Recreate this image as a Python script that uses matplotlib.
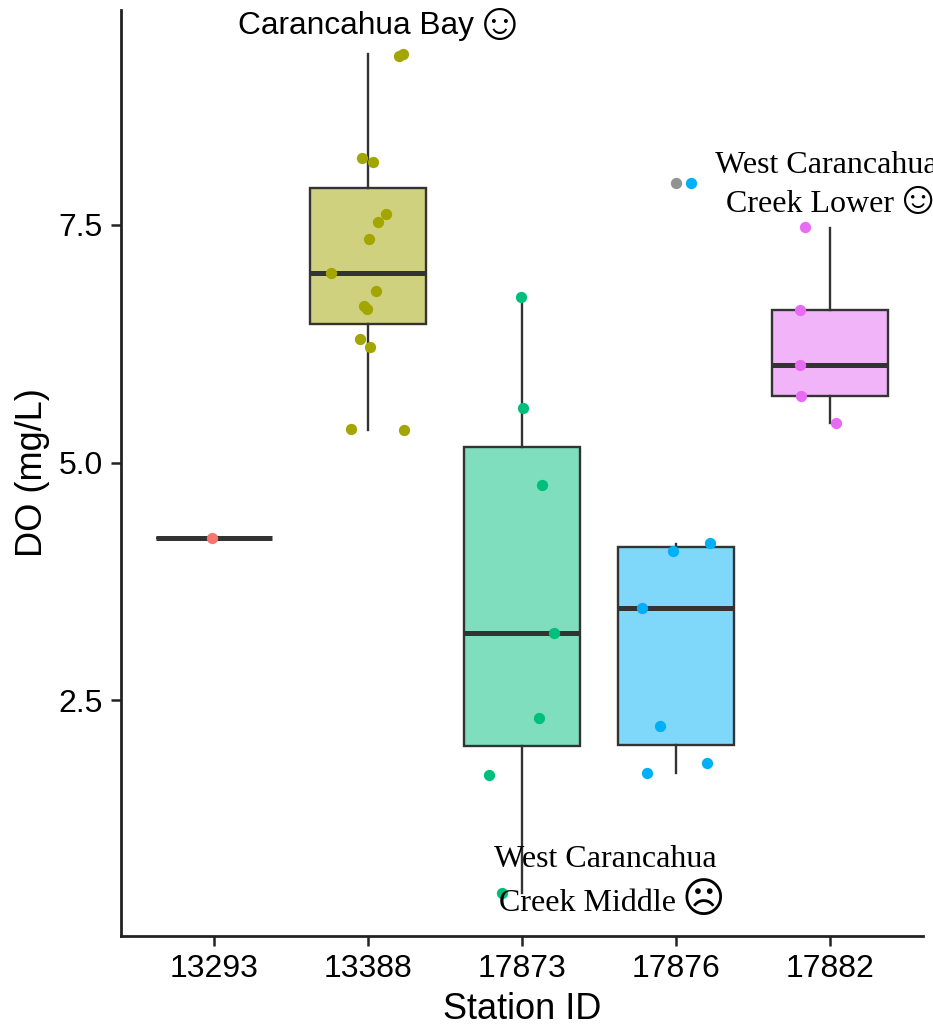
import matplotlib
matplotlib.use("Agg")
import matplotlib.pyplot as plt

stations = ["13293", "13388", "17873", "17876", "17882"]
colors = ["#F8766D", "#A3A500", "#00BF7D", "#00B0F6", "#E76BF3"]

# box stats: whisker low, q1, median, q3, whisker high
whisker_low = [4.205, 5.342, 0.468, 1.732, 5.416]
q1 = [4.205, 6.453, 2.016, 2.026, 5.700]
medians = [4.205, 6.990, 3.205, 3.468, 6.026]
q3 = [4.205, 7.889, 5.168, 4.110, 6.605]
whisker_high = [4.205, 9.300, 6.742, 4.142, 7.468]

# jittered points, x is position on the category axis
points_x = [
    [0.987],
    [2.201, 2.227, 1.961, 2.032, 2.117, 2.065, 2.006, 1.760, 2.052, 1.974, 1.994, 1.948, 2.013, 1.890, 2.234],
    [2.994, 3.006, 3.130, 3.208, 3.110, 2.786, 2.870],
    [4.097, 4.221, 3.981, 3.779, 3.896, 4.201, 3.812],
    [4.838, 4.805, 4.805, 4.812, 5.039],
]
points_y = [
    [4.205],
    [9.280, 9.300, 8.205, 8.163, 7.616, 7.530, 7.350, 6.995, 6.805, 6.647, 6.616, 6.300, 6.216, 5.353, 5.342],
    [6.742, 5.574, 4.763, 3.205, 2.311, 1.711, 0.468],
    [7.942, 4.153, 4.068, 3.468, 2.226, 1.837, 1.732],
    [7.479, 6.605, 6.026, 5.700, 5.416],
]

# outlier drawn by the boxplot for 17876
outlier_x = [4.0]
outlier_y = [7.942]

sans = ["Liberation Sans", "DejaVu Sans"]
serif = ["Liberation Serif", "DejaVu Sans"]
dark = "#333333"

fig = plt.figure(figsize=(9.33, 10.30), dpi=100)
ax = fig.add_axes([121 / 933, 94 / 1030, 802 / 933, 926 / 1030])

stats = [
    {"whislo": whisker_low[i], "q1": q1[i], "med": medians[i], "q3": q3[i], "whishi": whisker_high[i], "fliers": []}
    for i in range(len(stations))
]
boxes = ax.bxp(
    stats,
    positions=range(1, len(stations) + 1),
    widths=0.75,
    patch_artist=True,
    showcaps=False,
    manage_ticks=False,
    boxprops={"edgecolor": dark, "linewidth": 1.7},
    whiskerprops={"color": dark, "linewidth": 1.7},
    medianprops={"color": dark, "linewidth": 3.6, "solid_capstyle": "butt"},
)
for box, color in zip(boxes["boxes"], colors):
    box.set_facecolor(matplotlib.colors.to_rgba(color, 0.5))

ax.scatter(outlier_x, outlier_y, s=66, color="#7f7f7f", alpha=0.85, linewidths=0, zorder=3)
for xs, ys, color in zip(points_x, points_y, colors):
    ax.scatter(xs, ys, s=66, color=color, linewidths=0, zorder=3)

ax.set_xlim(0.396, 5.604)
ax.set_ylim(0.016, 9.763)
ax.set_xticks(range(1, len(stations) + 1))
ax.set_xticklabels(stations, family=sans)
ax.set_yticks([2.5, 5.0, 7.5])
ax.set_yticklabels(["2.5", "5.0", "7.5"], family=sans)
ax.tick_params(labelsize=23, length=7, width=1.8, color="#222222", pad=6)

ax.set_xlabel("Station ID", fontsize=26, family=sans, labelpad=5.5)
ax.set_ylabel("DO (mg/L)", fontsize=26, family=sans, labelpad=6.5)

for side in ["top", "right"]:
    ax.spines[side].set_visible(False)
for side in ["left", "bottom"]:
    ax.spines[side].set_linewidth(2.0)
    ax.spines[side].set_color("#222222")


def note(x, y, label, size, family):
    ax.text(x, y, label, fontsize=size, family=family, ha="center", va="center", clip_on=False, zorder=5)


note(1.922, 9.596, "Carancahua Bay", 22.8, sans)
note(2.857, 9.600, "☺", 38, sans)

note(4.975, 8.123, "West Carancahua", 23, serif)
note(4.870, 7.713, "Creek Lower", 23, serif)
note(5.571, 7.740, "☺", 34, serif)

note(3.542, 0.817, "West Carancahua", 23, serif)
note(3.425, 0.354, "Creek Middle", 23, serif)
note(4.175, 0.376, "☹", 30, serif)

fig.savefig("out.png", dpi=100)
